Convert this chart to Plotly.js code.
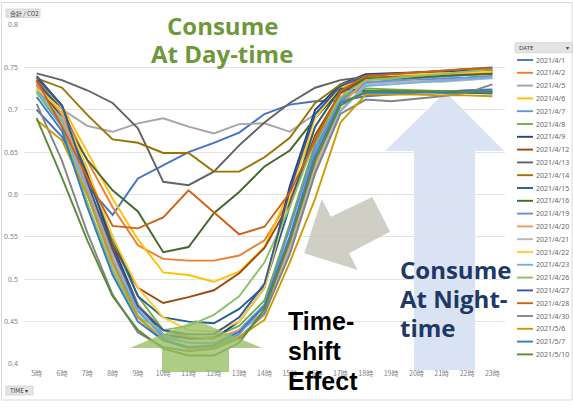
<!DOCTYPE html>
<html>
<head>
<meta charset="utf-8">
<script src="https://cdn.plot.ly/plotly-3.0.1.min.js"></script>
<style>html,body{margin:0;padding:0;background:#fff;}#chart{width:573px;height:412px;}</style>
</head>
<body>
<div id="chart"></div>
<script>
// ---- data ----
const hours = ['5時','6時','7時','8時','9時','10時','11時','12時','13時','14時','15時','16時','17時','18時','19時','20時','21時','22時','23時'];
const dates = ['2021/4/1','2021/4/2','2021/4/5','2021/4/6','2021/4/7','2021/4/8','2021/4/9','2021/4/12','2021/4/13','2021/4/14','2021/4/15','2021/4/16','2021/4/19','2021/4/20','2021/4/21','2021/4/22','2021/4/23','2021/4/26','2021/4/27','2021/4/28','2021/4/30','2021/5/6','2021/5/7','2021/5/10'];
const colors = ['#4472C4','#ED7D31','#A5A5A5','#FFC000','#5B9BD5','#70AD47','#264478','#9E480E','#636363','#997300','#255E91','#43682B','#698ED0','#F1975A','#B7B7B7','#FFCD33','#7CAFDD','#8CC168','#335AA1','#D26012','#848484','#CC9A00','#327DC2','#5A8A39'];

const s0401 = [0.700,0.668,0.610,0.576,0.619,0.635,0.650,0.661,0.673,0.695,0.706,0.710,0.711,0.716,0.718,0.720,0.721,0.723,0.724];
const s0402 = [0.735,0.700,0.640,0.585,0.540,0.524,0.522,0.522,0.528,0.546,0.594,0.665,0.720,0.722,0.723,0.722,0.721,0.721,0.722];
const s0405 = [0.720,0.700,0.681,0.674,0.684,0.690,0.680,0.672,0.683,0.684,0.674,0.695,0.720,0.733,0.733,0.734,0.735,0.736,0.738];
const s0406 = [0.730,0.705,0.650,0.595,0.547,0.508,0.505,0.497,0.509,0.538,0.605,0.680,0.725,0.738,0.739,0.740,0.741,0.742,0.744];
const s0407 = [0.725,0.685,0.600,0.520,0.462,0.432,0.425,0.424,0.440,0.470,0.550,0.650,0.712,0.732,0.735,0.737,0.739,0.741,0.743];
const s0408 = [0.728,0.700,0.630,0.545,0.480,0.440,0.430,0.432,0.445,0.475,0.565,0.660,0.715,0.725,0.724,0.723,0.722,0.721,0.721];
const s0409 = [0.738,0.705,0.625,0.540,0.470,0.435,0.430,0.430,0.450,0.490,0.610,0.700,0.730,0.742,0.743,0.744,0.745,0.746,0.747];
const s0412 = [0.735,0.690,0.610,0.540,0.490,0.472,0.479,0.487,0.507,0.537,0.590,0.670,0.720,0.736,0.738,0.740,0.742,0.743,0.744];
const s0413 = [0.743,0.735,0.723,0.708,0.678,0.615,0.611,0.627,0.658,0.685,0.708,0.726,0.735,0.739,0.740,0.742,0.743,0.745,0.746];
const s0414 = [0.737,0.726,0.694,0.665,0.661,0.649,0.649,0.627,0.627,0.644,0.667,0.708,0.730,0.737,0.738,0.740,0.741,0.742,0.743];
const s0415 = [0.733,0.700,0.620,0.550,0.480,0.455,0.450,0.448,0.465,0.492,0.585,0.680,0.725,0.722,0.722,0.721,0.720,0.720,0.719];
const s0416 = [0.730,0.691,0.641,0.605,0.580,0.532,0.538,0.578,0.603,0.633,0.652,0.690,0.723,0.736,0.737,0.738,0.740,0.741,0.742];
const s0419 = [0.720,0.680,0.590,0.510,0.455,0.430,0.420,0.420,0.435,0.470,0.560,0.655,0.710,0.730,0.733,0.735,0.737,0.738,0.740];
const s0420 = [0.730,0.695,0.610,0.530,0.470,0.440,0.432,0.430,0.440,0.462,0.540,0.635,0.705,0.735,0.737,0.740,0.742,0.744,0.745];
const s0421 = [0.720,0.690,0.600,0.515,0.458,0.428,0.420,0.420,0.432,0.458,0.535,0.630,0.700,0.730,0.732,0.734,0.733,0.735,0.737];
const s0422 = [0.725,0.700,0.630,0.550,0.490,0.455,0.440,0.438,0.450,0.490,0.600,0.690,0.728,0.740,0.741,0.742,0.743,0.744,0.745];
const s0423 = [0.722,0.688,0.605,0.525,0.465,0.435,0.425,0.425,0.438,0.460,0.530,0.625,0.698,0.728,0.730,0.732,0.734,0.736,0.738];
const s0426 = [0.720,0.685,0.590,0.510,0.455,0.440,0.445,0.458,0.480,0.520,0.585,0.665,0.715,0.735,0.737,0.740,0.742,0.745,0.748];
const s0427 = [0.740,0.705,0.615,0.535,0.468,0.440,0.435,0.435,0.455,0.495,0.605,0.695,0.728,0.740,0.742,0.744,0.746,0.748,0.750];
const s0428 = [0.735,0.680,0.620,0.563,0.560,0.573,0.605,0.579,0.553,0.562,0.602,0.664,0.722,0.740,0.742,0.744,0.746,0.748,0.749];
const s0430 = [0.707,0.640,0.555,0.482,0.437,0.420,0.415,0.418,0.430,0.460,0.530,0.625,0.695,0.712,0.710,0.713,0.716,0.720,0.730];
const s0506 = [0.688,0.664,0.600,0.520,0.455,0.428,0.418,0.420,0.432,0.452,0.520,0.595,0.685,0.718,0.718,0.718,0.717,0.717,0.716];
const s0507 = [0.715,0.675,0.585,0.505,0.450,0.428,0.420,0.422,0.438,0.468,0.550,0.645,0.708,0.720,0.720,0.721,0.721,0.722,0.722];
const s0510 = [0.690,0.620,0.546,0.480,0.440,0.418,0.410,0.410,0.425,0.465,0.545,0.640,0.705,0.722,0.722,0.722,0.722,0.721,0.720];

const seriesValues = [s0401,s0402,s0405,s0406,s0407,s0408,s0409,s0412,s0413,s0414,s0415,s0416,s0419,s0420,s0421,s0422,s0423,s0426,s0427,s0428,s0430,s0506,s0507,s0510];

// ---- layout helpers (pixel -> paper) ----
const W = 573, H = 412, ML = 24, MR = 68, MT = 25, MB = 48;
const PW = W - ML - MR, PH = H - MT - MB;
const px = v => (v - ML) / PW;
const py = v => (H - MB - v) / PH;

const traces = seriesValues.map((vals, i) => ({
  type: 'scatter', mode: 'lines', x: hours, y: vals, name: dates[i],
  line: {color: colors[i], width: 1.9}, hoverinfo: 'skip'
}));

const shapes = [];
const annotations = [];

// outer frame
shapes.push({type:'rect', xref:'paper', yref:'paper', x0:px(1.5), x1:px(572), y0:py(2.5), y1:py(400), line:{color:'#D9D9D9', width:1}, layer:'below'});

// pivot buttons
function button(x0, y0, x1, y1, text, fs) {
  shapes.push({type:'rect', xref:'paper', yref:'paper', x0:px(x0), x1:px(x1), y0:py(y0), y1:py(y1), fillcolor:'#E4E4E4', line:{color:'#CFCFCF', width:0.8}});
  annotations.push({xref:'paper', yref:'paper', x:px(x0+2), y:py((y0+y1)/2), text:text, showarrow:false, xanchor:'left', yanchor:'middle', font:{family:'Noto Sans CJK JP, sans-serif', size:fs, color:'#404040'}});
}
button(6, 9, 40, 17.5, '合計 / CO2', 6);
button(6, 386, 33, 395, 'TIME ▾', 6);
// legend header
shapes.push({type:'rect', xref:'paper', yref:'paper', x0:px(515), x1:px(572.5), y0:py(42.7), y1:py(52.7), fillcolor:'#E4E4E4', line:{color:'#CFCFCF', width:0.8}});
annotations.push({xref:'paper', yref:'paper', x:px(516.5), y:py(47.7), text:'DATE', showarrow:false, xanchor:'left', yanchor:'middle', font:{family:'Noto Sans, sans-serif', size:6, color:'#404040'}});
annotations.push({xref:'paper', yref:'paper', x:px(571), y:py(47.7), text:'▾', showarrow:false, xanchor:'right', yanchor:'middle', font:{family:'DejaVu Sans, sans-serif', size:6, color:'#404040'}});

// legend entries
dates.forEach((d, i) => {
  const yy = 60 + 12.8 * i;
  shapes.push({type:'line', xref:'paper', yref:'paper', x0:px(517), x1:px(533), y0:py(yy), y1:py(yy), line:{color:colors[i], width:1.9}});
  annotations.push({xref:'paper', yref:'paper', x:px(533.5), y:py(yy), text:d, showarrow:false, xanchor:'left', yanchor:'middle', font:{family:'Noto Sans, sans-serif', size:7, color:'#666666'}});
});

// decorative arrows
function poly(pts) { return 'M' + pts.map(p => px(p[0]) + ',' + py(p[1])).join(' L') + ' Z'; }
// light blue up arrow (night)
shapes.push({type:'path', xref:'paper', yref:'paper', layer:'below',
  path: poly([[445.5,92],[504,151],[475,151],[475,370],[414,370],[414,151],[385,151]]),
  fillcolor:'rgba(218,227,243,1)', line:{width:0}});
// gray arrow (time shift)
shapes.push({type:'path', xref:'paper', yref:'paper', layer:'above',
  path: poly([[304.3,253.3],[321.7,199],[331,216.7],[372.3,197],[390,231.7],[349,253.3],[357.7,270]]),
  fillcolor:'rgba(196,196,186,0.82)', line:{width:0}});
// green up arrow (day)
shapes.push({type:'path', xref:'paper', yref:'paper', layer:'above',
  path: poly([[196,320],[262,348],[229,348],[229,372],[162,372],[162,348],[130,348]]),
  fillcolor:'rgba(150,190,100,0.78)', line:{width:0}});

// text annotations
function txt(x, yBase, text, size, color, family, anchor) {
  annotations.push({xref:'paper', yref:'paper', x:px(x), y:py(yBase - 0.33*size), text:text, showarrow:false,
    xanchor:anchor, yanchor:'middle', font:{family:family, size:size, color:color, weight:'bold'}});
}
const fOpen = 'Open Sans, Noto Sans, sans-serif';
txt(222, 33, '<b>Consume</b>', 24, '#6E9839', fOpen, 'center');
txt(222, 61, '<b>At Day-time</b>', 24, '#6E9839', fOpen, 'center');
txt(398, 277, '<b>Consume</b>', 24, '#203864', fOpen, 'left');
txt(398, 306, '<b>At Night-</b>', 24, '#203864', fOpen, 'left');
txt(398, 335, '<b>time</b>', 24, '#203864', fOpen, 'left');
const fLib = 'Liberation Sans, Arial, sans-serif';
txt(286, 329, '<b>Time-</b>', 25, '#000000', fLib, 'left');
txt(286, 359, '<b>shift</b>', 25, '#000000', fLib, 'left');
txt(286, 389, '<b>Effect</b>', 25, '#000000', fLib, 'left');

const layout = {
  width: W, height: H,
  margin: {l: ML, r: MR, t: MT, b: MB, pad: 0},
  paper_bgcolor: '#FFFFFF', plot_bgcolor: '#FFFFFF',
  showlegend: false,
  xaxis: {type:'category', range:[-0.5, 18.5], showgrid:false, zeroline:false, showline:false, ticks:'',
    ticklabelstandoff:4,
    tickfont:{family:'Noto Sans CJK JP, sans-serif', size:7, color:'#7F7F7F'}, fixedrange:true},
  yaxis: {range:[0.4, 0.8], dtick:0.05, tick0:0.4, showgrid:true, gridcolor:'#E3E3E3', gridwidth:1, zeroline:false,
    showline:false, ticks:'', ticklabelstandoff:5,
    tickfont:{family:'Noto Sans, sans-serif', size:7, color:'#7F7F7F'}, fixedrange:true},
  shapes: shapes,
  annotations: annotations
};

Plotly.newPlot('chart', traces, layout, {displayModeBar:false, staticPlot:true});
</script>
</body>
</html>
